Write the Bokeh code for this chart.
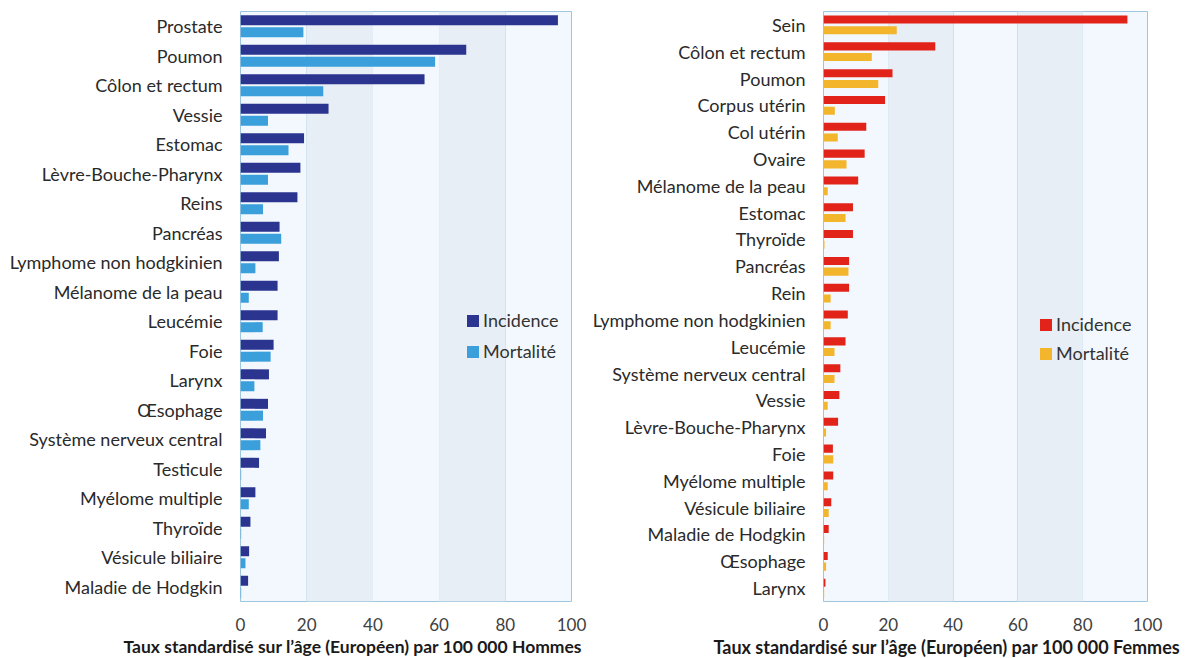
from bokeh.plotting import figure
from bokeh.models import FactorRange, BoxAnnotation, Legend, LegendItem, Title, ColumnDataSource, FixedTicker
from bokeh.transform import dodge
from bokeh.layouts import row
from bokeh.embed import file_html
from bokeh.resources import INLINE

# ---- data ----
men_sites = ["Prostate", "Poumon", "Côlon et rectum", "Vessie", "Estomac", "Lèvre-Bouche-Pharynx",
             "Reins", "Pancréas", "Lymphome non hodgkinien", "Mélanome de la peau", "Leucémie",
             "Foie", "Larynx", "Œsophage", "Système nerveux central", "Testicule",
             "Myélome multiple", "Thyroïde", "Vésicule biliaire", "Maladie de Hodgkin"]
men_incidence = [95.9, 68.2, 55.6, 26.6, 19.2, 18.1, 17.2, 11.8, 11.6, 11.2, 11.2,
                 10.0, 8.6, 8.3, 7.7, 5.6, 4.5, 3.0, 2.6, 2.3]
men_mortality = [19.0, 58.8, 25.0, 8.3, 14.5, 8.3, 6.8, 12.3, 4.5, 2.5, 6.7,
                 9.1, 4.2, 6.8, 6.0, 0.2, 2.5, 0.2, 1.5, 0.2]

women_sites = ["Sein", "Côlon et rectum", "Poumon", "Corpus utérin", "Col utérin", "Ovaire",
               "Mélanome de la peau", "Estomac", "Thyroïde", "Pancréas", "Rein",
               "Lymphome non hodgkinien", "Leucémie", "Système nerveux central", "Vessie",
               "Lèvre-Bouche-Pharynx", "Foie", "Myélome multiple", "Vésicule biliaire",
               "Maladie de Hodgkin", "Œsophage", "Larynx"]
women_incidence = [93.8, 34.5, 21.3, 19.0, 13.2, 12.7, 10.7, 9.1, 9.1, 7.9, 7.9,
                   7.5, 6.8, 5.2, 4.9, 4.5, 2.9, 3.0, 2.4, 1.6, 1.3, 0.6]
women_mortality = [22.6, 14.9, 16.9, 3.5, 4.4, 7.1, 1.3, 6.8, 0.3, 7.7, 2.2,
                   2.2, 3.4, 3.4, 1.3, 0.8, 3.0, 1.3, 1.6, 0.2, 0.8, 0.2]

x_ticks = [0, 20, 40, 60, 80, 100]
series_names = ["Incidence", "Mortalité"]
men_title = "Taux standardisé sur l’âge (Européen) par 100 000 Hommes"
women_title = "Taux standardisé sur l’âge (Européen) par 100 000 Femmes"

FONT = "Lato"


def make_panel(sites, inc, mort, inc_color, mort_color, title_text, frame_w, mbl, mbr,
               bar_h, off, legend_loc, legend_spacing, title_offset, title_size):
    src = ColumnDataSource(dict(site=sites, inc=inc, mort=mort))
    p = figure(frame_width=frame_w, frame_height=590, output_backend="svg", toolbar_location=None,
               y_range=FactorRange(factors=list(reversed(sites))), x_range=(0, 100),
               min_border_left=mbl, min_border_right=mbr, min_border_top=11, min_border_bottom=50,
               background_fill_color="#f2f8fd", border_fill_color="white",
               outline_line_color="#9fc6df", outline_line_width=1)
    for lo, hi in [(20, 40), (60, 80)]:
        p.add_layout(BoxAnnotation(left=lo, right=hi, fill_color="#e8eef5", fill_alpha=1.0,
                                   line_color=None, level="underlay"))
    r1 = p.hbar(y=dodge("site", off, range=p.y_range), right="inc", left=0, height=bar_h,
                source=src, fill_color=inc_color, line_color=None)
    r2 = p.hbar(y=dodge("site", -off, range=p.y_range), right="mort", left=0, height=bar_h,
                source=src, fill_color=mort_color, line_color=None)

    p.xaxis.ticker = FixedTicker(ticks=x_ticks)
    p.xgrid.ticker = FixedTicker(ticks=x_ticks[1:-1])
    p.xgrid.grid_line_color = "#c6e0f1"
    p.ygrid.grid_line_color = None
    for ax in (p.xaxis, p.yaxis):
        ax.axis_line_color = None
        ax.major_tick_line_color = None
        ax.minor_tick_line_color = None
        ax.major_label_text_font = FONT
    p.xaxis.major_label_text_font_size = "17px"
    p.xaxis.major_label_text_color = "#404040"
    p.xaxis.major_label_standoff = 10
    p.yaxis.major_label_text_font_size = "18px"
    p.yaxis.major_label_text_color = "#2a2a2a"
    p.yaxis.major_label_standoff = 12

    legend = Legend(items=[LegendItem(label=series_names[0], renderers=[r1]),
                           LegendItem(label=series_names[1], renderers=[r2])],
                    location=legend_loc, background_fill_alpha=0, border_line_color=None,
                    padding=0, margin=0, glyph_width=15, glyph_height=15, label_height=15,
                    spacing=legend_spacing, label_standoff=3,
                    label_text_font=FONT, label_text_font_size="18px", label_text_color="#333333")
    p.add_layout(legend, "center")

    t = Title(text=title_text, align="left", offset=title_offset, text_font=FONT,
              text_font_size=title_size, text_font_style="bold", text_color="#1a1a1a", standoff=1)
    p.add_layout(t, "below")
    return p


p1 = make_panel(men_sites, men_incidence, men_mortality, "#2b3590", "#3a9fdb", men_title,
                331, 240, 18, 0.34, 0.2, (225, 239), 9, -117, "17.5px")
p2 = make_panel(women_sites, women_incidence, women_mortality, "#e2231a", "#f2b52b", women_title,
                324, 226, 42, 0.30, 0.2, (215, 237), 7, -110, "18px")

layout = row(p1, p2)
open("out.html", "w").write(file_html(layout, INLINE))
